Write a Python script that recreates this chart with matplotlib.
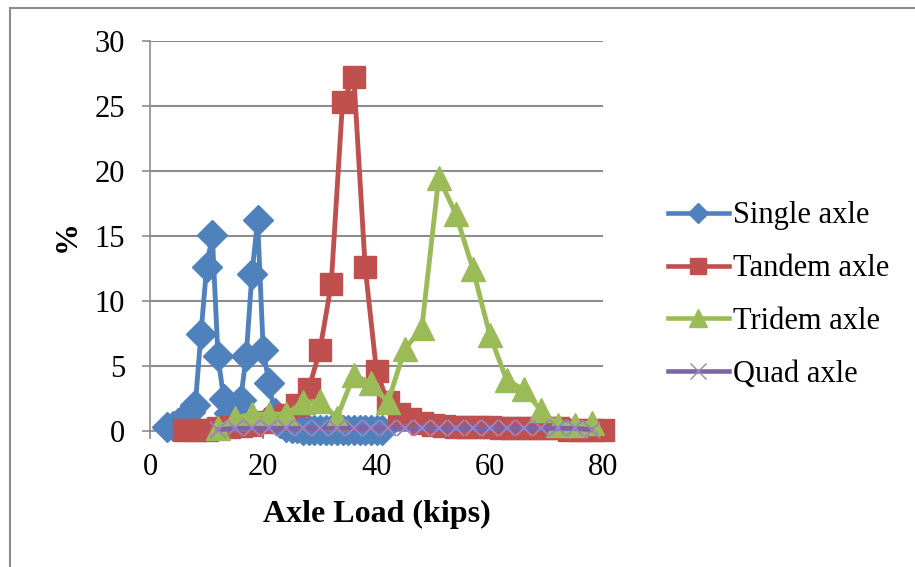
import numpy as np
import matplotlib.pyplot as plt
from matplotlib.lines import Line2D
from matplotlib.patches import Rectangle

plt.rcParams['font.family'] = ['Liberation Serif', 'DejaVu Serif']

# Single axle, 1 kip bins
x_single = list(range(3, 42))
y_single = [0.3, 0.4, 0.6, 1.0, 1.5, 2.0, 7.5, 12.6, 15.1, 5.8, 2.5, 1.4, 1.5,
            2.4, 5.8, 12.1, 16.2, 6.2, 3.7, 1.4, 0.6, 0.3, 0.2, 0.2, 0.1, 0.1,
            0.1, 0.1, 0.1, 0.1, 0.1, 0.1, 0.1, 0.1, 0.1, 0.1, 0.1, 0.1, 0.1]

# Tandem axle, 2 kip bins
x_tandem = list(range(6, 81, 2))
y_tandem = [0.1, 0.1, 0.1, 0.2, 0.3, 0.4, 0.5, 0.7, 0.9, 1.2, 2.0, 3.2, 6.2,
            11.3, 25.3, 27.2, 12.6, 4.6, 2.2, 1.3, 0.9, 0.6, 0.5, 0.4, 0.3,
            0.3, 0.3, 0.3, 0.2, 0.2, 0.2, 0.2, 0.2, 0.2, 0.1, 0.1, 0.1, 0.1]

# Tridem axle, 3 kip bins
x_tridem = list(range(12, 79, 3))
y_tridem = [0.2, 1.0, 1.3, 1.3, 1.3, 2.2, 2.3, 1.0, 4.3, 3.7, 2.2, 6.3, 7.9,
            19.5, 16.7, 12.5, 7.4, 3.9, 3.2, 1.6, 0.5, 0.5, 0.6]

# Quad axle, 3 kip bins
x_quad = list(range(12, 79, 3))
y_quad = [0.1, 0.2, 0.2, 0.2, 0.2, 0.2, 0.2, 0.2, 0.2, 0.2, 0.2, 0.2, 0.2,
          0.2, 0.2, 0.2, 0.2, 0.2, 0.2, 0.2, 0.2, 0.2, 0.1]

labels = ['Single axle', 'Tandem axle', 'Tridem axle', 'Quad axle']
colors = ['#4F81BD', '#C0504D', '#9BBB59', '#8064A2']

fig = plt.figure(figsize=(9.15, 5.67), dpi=100)
ax = fig.add_axes([150 / 915, 136 / 567, 453 / 915, 390 / 567])

ax.plot(x_single, y_single, color=colors[0], lw=3.5, marker='D', ms=15.5, clip_on=False, zorder=3)
ax.plot(x_tandem, y_tandem, color=colors[1], lw=3.5, marker='s', ms=16.5, clip_on=False, zorder=3)
ax.plot(x_tridem, y_tridem, color=colors[2], lw=3.5, marker='^', ms=17.5, clip_on=False, zorder=3)
ax.plot(x_quad, y_quad, color=colors[3], lw=3.5, marker='x', ms=11, mew=1.4,
        mec='#9B84C0', clip_on=False, zorder=3)

ax.set_xlim(0, 80)
ax.set_ylim(0, 30)
ax.set_xticks(np.arange(0, 81, 20))
ax.set_yticks(np.arange(0, 31, 5))
ax.grid(axis='y', color='#8C8C8C', lw=1.5)
ax.set_axisbelow(True)
for s in ['top', 'right']:
    ax.spines[s].set_visible(False)
for s in ['left', 'bottom']:
    ax.spines[s].set_color('#8C8C8C')
    ax.spines[s].set_linewidth(1.2)
ax.tick_params(colors='#8C8C8C', labelcolor='black', labelsize=22, length=6, width=1.2)
ax.tick_params(axis='y', pad=12)
ax.tick_params(axis='x', pad=10)

ax.set_xlabel('Axle Load (kips)', fontsize=23, fontweight='bold', labelpad=13)
ax.set_ylabel('%', fontsize=23, fontweight='bold', labelpad=9)

handles = [
    Line2D([], [], color=colors[0], lw=3.3, marker='D', ms=10),
    Line2D([], [], color=colors[1], lw=3.3, marker='s', ms=12),
    Line2D([], [], color=colors[2], lw=3.3, marker='^', ms=13),
    Line2D([], [], color=colors[3], lw=3.3, marker='x', ms=12, mew=1, mec='#9B84C0'),
]
fig.legend(handles, labels, loc='upper left', bbox_to_anchor=(640 / 915, 1 - 174 / 567),
           frameon=False, fontsize=22, handlelength=2.0, handletextpad=0.15,
           labelspacing=0.78)

fig.patches.append(Rectangle((10 / 915, -0.1), 1.2, 1 - 8 / 567 + 0.1, transform=fig.transFigure,
                             fill=False, edgecolor='#8C8C8C', lw=1.5))

fig.savefig('out.png', dpi=100)
